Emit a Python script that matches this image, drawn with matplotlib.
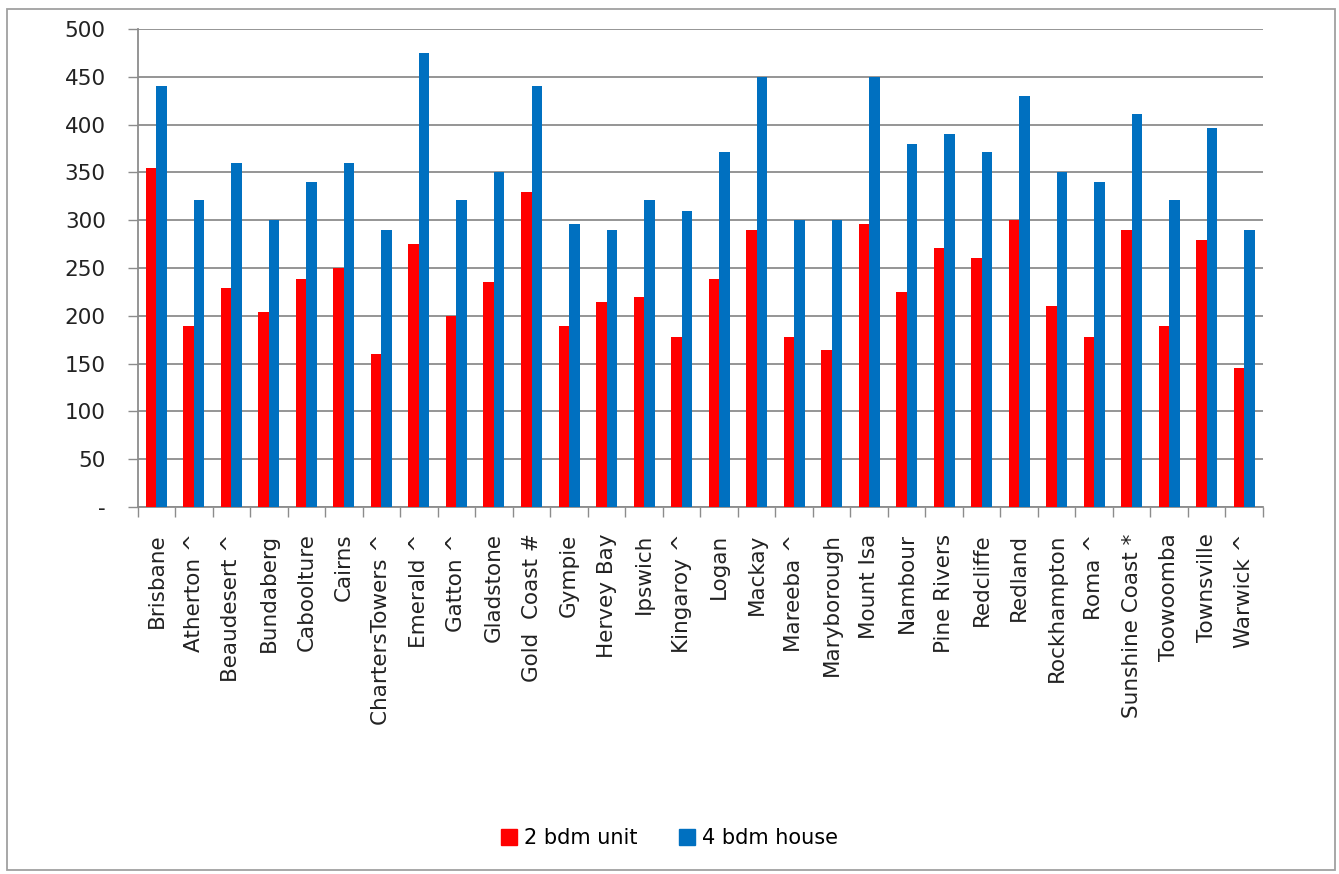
import numpy as np
import matplotlib
matplotlib.use("Agg")
import matplotlib.pyplot as plt
from matplotlib.patches import Rectangle
from matplotlib.lines import Line2D

# rents per week
towns = ['Brisbane', 'Atherton ^', 'Beaudesert ^', 'Bundaberg', 'Caboolture',
         'Cairns', 'ChartersTowers ^', 'Emerald ^', 'Gatton ^', 'Gladstone',
         'Gold  Coast #', 'Gympie', 'Hervey Bay', 'Ipswich', 'Kingaroy ^',
         'Logan', 'Mackay', 'Mareeba ^', 'Maryborough', 'Mount Isa',
         'Nambour', 'Pine Rivers', 'Redcliffe', 'Redland', 'Rockhampton',
         'Roma ^', 'Sunshine Coast *', 'Toowoomba', 'Townsville', 'Warwick ^']
unit_2bdm = [355, 189, 229, 204, 239, 250, 160, 275, 200, 235,
             330, 189, 214, 220, 178, 239, 290, 178, 164, 296,
             225, 271, 260, 300, 210, 178, 290, 189, 279, 145]
house_4bdm = [440, 321, 360, 300, 340, 360, 290, 475, 321, 350,
              440, 296, 290, 321, 310, 371, 450, 300, 300, 450,
              380, 390, 371, 430, 350, 340, 411, 321, 396, 290]
yticks = [0, 50, 100, 150, 200, 250, 300, 350, 400, 450, 500]
ytick_labels = ['-'] + [str(v) for v in yticks[1:]]

RED = '#FF0000'
BLUE = '#0070C0'
GRID = '#8C8C8C'
FS = 15.5

fig = plt.figure(figsize=(13.39, 8.74), dpi=100)
ax = fig.add_axes([0.1028, 0.4199, 0.8404, 0.5469])

x = np.arange(len(towns))
w = 0.28
ax.bar(x - w / 2, unit_2bdm, w, color=RED, label='2 bdm unit', zorder=3)
ax.bar(x + w / 2, house_4bdm, w, color=BLUE, label='4 bdm house', zorder=3)

ax.set_xlim(-0.5, len(towns) - 0.5)
ax.set_ylim(0, 500)
ax.set_yticks(yticks)
ax.set_yticklabels(ytick_labels, fontsize=FS, color='#222222')
ax.yaxis.grid(True, color=GRID, linewidth=1.3, zorder=0)

# x ticks sit on the category boundaries, labels in the middle
ax.set_xticks(np.arange(-0.5, len(towns), 1.0))
ax.set_xticklabels([])
ax.set_xticks(x, minor=True)
ax.set_xticklabels(towns, minor=True, rotation=90, fontsize=FS,
                   ha='center', va='top', color='#222222')
ax.tick_params(axis='x', which='minor', length=0, pad=19)
ax.tick_params(axis='x', which='major', length=7, width=1, color=GRID, direction='out')
ax.tick_params(axis='y', length=7, width=1, color=GRID, direction='out', pad=16)

for side in ['top', 'right']:
    ax.spines[side].set_visible(False)
for side in ['left', 'bottom']:
    ax.spines[side].set_color(GRID)
    ax.spines[side].set_linewidth(1.3)

handles = [Line2D([], [], marker='s', color='none', markerfacecolor=c,
                  markeredgecolor=c, markersize=12) for c in (RED, BLUE)]
fig.legend(handles, ['2 bdm unit', '4 bdm house'], loc='center',
           bbox_to_anchor=(0.5, 0.041), ncol=2, frameon=False, fontsize=15,
           handlelength=0.8, handletextpad=0.3, columnspacing=2.0)

fig.patches.append(Rectangle((0.005, 0.005), 0.992, 0.985, transform=fig.transFigure,
                             fill=False, edgecolor='#A0A0A0', linewidth=1.3))

fig.savefig('out.png', dpi=100)
